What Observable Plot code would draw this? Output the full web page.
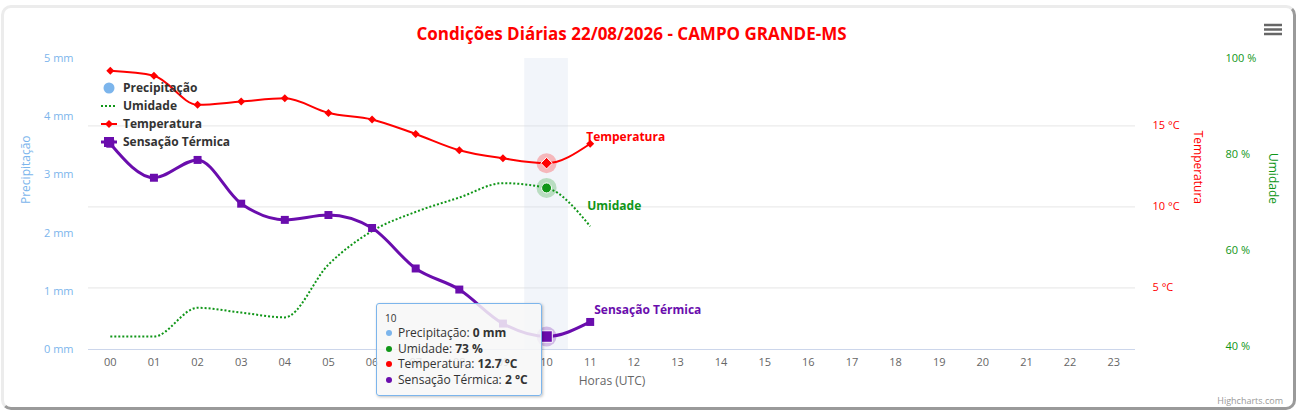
<!DOCTYPE html>
<html>
<head>
<meta charset="utf-8">
<script src="https://cdn.jsdelivr.net/npm/d3@7"></script>
<script src="https://cdn.jsdelivr.net/npm/@observablehq/plot@0.6"></script>
<style>
  body { margin: 0; background: #fff; font-family: "Open Sans", sans-serif; }
  #wrap { position: relative; width: 1300px; height: 414px; overflow: hidden; background: #fff; }
  #frame { position: absolute; left: 1px; top: 5px; width: 1289px; height: 399px; border-style: solid; border-width: 3px;
           border-color: #ececec #9a9a9a #9a9a9a #ececec; border-radius: 10px; pointer-events: none; }
  #tip { position: absolute; left: 376px; top: 303px; width: 166px; height: 93px; box-sizing: border-box;
         background: rgba(247,247,247,0.85); border: 1px solid #7cb5ec; border-radius: 3px;
         box-shadow: 1px 1px 3px rgba(0,0,0,0.25); padding: 7px 8px; color: #333; font-size: 12px; }
  #tip .hd { font-size: 10px; line-height: 14px; }
  #tip .row { line-height: 15.7px; white-space: nowrap; }
  #tip .bul { display: inline-block; width: 6px; height: 6px; border-radius: 50%; margin: 0 6px 0 1px; vertical-align: 1px; }
</style>
</head>
<body>
<div id="wrap"><div id="frame"></div></div>
<script>
// ---------- data ----------
const chartTitle = "Condições Diárias 22/08/2026 - CAMPO GRANDE-MS";
const hourLabels = ["00","01","02","03","04","05","06","07","08","09","10","11",
                    "12","13","14","15","16","17","18","19","20","21","22","23"];
const dataHours = [0,1,2,3,4,5,6,7,8,9,10,11];
const precipitacao = [0,0,0,0,0,0,0,0,0,0,0,0];
const umidade      = [42,42,48,47,46,57,64,68,71,74,73,65];
const temperatura  = [18.4,18.1,16.3,16.5,16.7,15.8,15.4,14.5,13.5,13.0,12.7,13.9];
const sensacao     = [13.9,11.8,12.9,10.2,9.2,9.5,8.7,6.2,4.9,2.8,2.0,2.9];
const precipTicks = [0,1,2,3,4,5];
const tempTicks = [5,10,15];
const umidTicks = [40,60,80,100];
const seriesNames = ["Precipitação","Umidade","Temperatura","Sensação Térmica"];
const seriesColors = ["#7cb5ec","#109618","#ff0000","#6a0dad"];
const hoverHour = 10;

// domains chosen to reproduce the aligned axes of the original chart
const precipDomain = [0,5];
const tempDomain = [1.2,19.16];
const umidDomain = [39.3,100];

const rows = dataHours.map((h,i)=>({h, p: precipitacao[i], u: umidade[i], t: temperatura[i], s: sensacao[i]}));
const hov = rows.filter(d=>d.h===hoverHour);
const last = [rows[rows.length-1]];
const hourNums = hourLabels.map(Number);

const [cP, cU, cT, cS] = seriesColors;
const wrap = document.getElementById("wrap");
const base = {
  width: 1300, height: 414, marginLeft: 88, marginRight: 165, marginTop: 58, marginBottom: 65,
  x: {type: "linear", domain: [-0.5, 23.5], axis: null},
  style: "position:absolute;left:0;top:0;background:transparent;overflow:visible;font-family:'Open Sans',sans-serif;font-size:11px;"
};
function add(p){ wrap.appendChild(p); }

// layer 1: temperature grid + temperature axis (right)
add(Plot.plot({...base,
  y: {domain: tempDomain},
  marks: [
    Plot.gridY(tempTicks, {stroke: "#e6e6e6", strokeOpacity: 1}),
    Plot.axisY(tempTicks, {anchor: "right", tickSize: 0, tickPadding: 17, tickFormat: d => d + " °C", fill: cT, label: null}),
    Plot.text(["Temperatura"], {frameAnchor: "right", dx: 62, rotate: 90, fill: cT, fontSize: 12})
  ]
}));

// layer 2: precipitation axis, x axis, hover band
add(Plot.plot({...base,
  x: {type: "linear", domain: [-0.5, 23.5]},
  y: {domain: precipDomain},
  marks: [
    Plot.rect(hov, {x1: d => d.h - 0.5, x2: d => d.h + 0.5, y1: precipDomain[0], y2: precipDomain[1], fill: "#ccd6eb", fillOpacity: 0.25}),
    Plot.rectY(rows, {x1: d => d.h - 0.3, x2: d => d.h + 0.3, y: "p", fill: cP}),
    Plot.ruleY([0], {stroke: "#ccd6eb", strokeWidth: 1}),
    Plot.axisY(precipTicks, {anchor: "left", tickSize: 0, tickPadding: 15, tickFormat: d => d + " mm", fill: cP, label: null}),
    Plot.axisX(hourNums, {tickSize: 0, tickPadding: 9, tickFormat: i => hourLabels[i], fill: "#666", label: null}),
    Plot.text(["Precipitação"], {frameAnchor: "left", dx: -62, rotate: -90, fill: cP, fontSize: 12}),
    Plot.text(["Horas (UTC)"], {frameAnchor: "bottom", dy: 35, fill: "#666", fontSize: 12}),
    Plot.text([chartTitle], {frameAnchor: "top", dx: 19.5, dy: -31, fill: "#ff0000", fontSize: 17, fontWeight: "bold"})
  ]
}));

// layer 3: humidity
add(Plot.plot({...base,
  y: {domain: umidDomain},
  marks: [
    Plot.axisY(umidTicks, {anchor: "right", tickSize: 0, tickPadding: 90, tickFormat: d => d + " %", fill: cU, label: null}),
    Plot.text(["Umidade"], {frameAnchor: "right", dx: 137, rotate: 90, fill: cU, fontSize: 12}),
    Plot.line(rows, {x: "h", y: "u", stroke: cU, strokeWidth: 2, strokeDasharray: "2,2", strokeLinecap: "butt", curve: "monotone-x"}),
    Plot.dot(hov, {x: "h", y: "u", r: 10, fill: cU, fillOpacity: 0.25}),
    Plot.dot(hov, {x: "h", y: "u", r: 5, fill: cU, stroke: "#fff", strokeWidth: 1}),
    Plot.text(last, {x: "h", y: "u", text: () => "Umidade", dx: -3, dy: -20, textAnchor: "start", fill: cU, fontWeight: "bold", fontSize: 12})
  ]
}));

// layer 4: temperature and sensação térmica
add(Plot.plot({...base,
  y: {domain: tempDomain, axis: null},
  marks: [
    Plot.line(rows, {x: "h", y: "t", stroke: cT, strokeWidth: 2, curve: "monotone-x"}),
    Plot.dot(rows, {x: "h", y: "t", symbol: "diamond2", r: 3.6, fill: cT}),
    Plot.line(rows, {x: "h", y: "s", stroke: cS, strokeWidth: 3, curve: "monotone-x"}),
    Plot.dot(rows, {x: "h", y: "s", symbol: "square", r: 4.5, fill: cS}),
    Plot.dot(hov, {x: "h", y: "t", r: 10, fill: cT, fillOpacity: 0.25}),
    Plot.dot(hov, {x: "h", y: "t", symbol: "diamond2", r: 5.2, fill: cT, stroke: "#fff", strokeWidth: 1}),
    Plot.dot(hov, {x: "h", y: "s", r: 10, fill: cS, fillOpacity: 0.25}),
    Plot.dot(hov, {x: "h", y: "s", symbol: "square", r: 6.5, fill: cS, stroke: "#fff", strokeWidth: 1}),
    Plot.text(last, {x: "h", y: "t", text: () => "Temperatura", dx: -4, dy: -7, textAnchor: "start", fill: cT, fontWeight: "bold", fontSize: 12}),
    Plot.text(last, {x: "h", y: "s", text: () => "Sensação Térmica", dx: 4, dy: -12, textAnchor: "start", fill: cS, fontWeight: "bold", fontSize: 12})
  ]
}));

// legend, menu icon, credits (decoration overlay)
const ov = d3.create("svg").attr("width", 1300).attr("height", 414)
  .style("position", "absolute").style("left", 0).style("top", 0).style("pointer-events", "none")
  .style("font-family", "'Open Sans',sans-serif");
const legY = [88, 106, 124, 142];
seriesNames.forEach((name, i) => {
  const g = ov.append("g").attr("transform", `translate(0,${legY[i]})`);
  if (i === 0) g.append("circle").attr("cx", 109).attr("cy", 0).attr("r", 5.5).attr("fill", seriesColors[i]);
  else {
    g.append("line").attr("x1", 101).attr("x2", 117).attr("y1", 0).attr("y2", 0)
      .attr("stroke", seriesColors[i]).attr("stroke-width", i === 3 ? 3 : 2)
      .attr("stroke-dasharray", i === 1 ? "2,2" : null);
    if (i === 2) g.append("path").attr("d", "M109,-4L113,0L109,4L105,0Z").attr("fill", seriesColors[i]);
    if (i === 3) g.append("rect").attr("x", 104).attr("y", -5).attr("width", 10).attr("height", 10).attr("fill", seriesColors[i]);
  }
  g.append("text").attr("x", 123).attr("y", 0).attr("dy", "0.35em").attr("font-size", 12)
    .attr("font-weight", "bold").attr("fill", "#333").text(name);
});
[25, 29.5, 34].forEach(y => ov.append("line").attr("x1", 1264).attr("x2", 1282).attr("y1", y).attr("y2", y)
  .attr("stroke", "#666").attr("stroke-width", 2.5));
ov.append("text").attr("x", 1283).attr("y", 404).attr("text-anchor", "end").attr("font-size", 9)
  .attr("fill", "#999").text("Highcharts.com");
wrap.appendChild(ov.node());

// tooltip
const i = dataHours.indexOf(hoverHour);
const tipVals = [precipitacao[i] + " mm", umidade[i] + " %", temperatura[i] + " °C", sensacao[i] + " °C"];
const tip = document.createElement("div");
tip.id = "tip";
tip.innerHTML = `<div class="hd">${hourLabels[hoverHour]}</div>` + seriesNames.map((n, k) =>
  `<div class="row"><span class="bul" style="background:${seriesColors[k]}"></span>${n}: <b>${tipVals[k]}</b></div>`).join("");
wrap.appendChild(tip);
wrap.appendChild(document.getElementById("frame"));
</script>
</body>
</html>
